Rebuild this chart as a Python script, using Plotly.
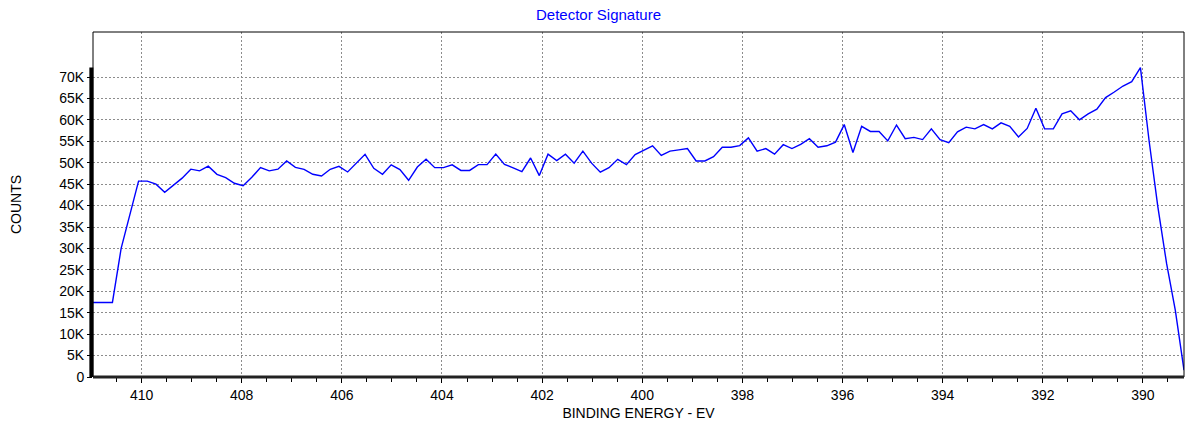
import numpy as np
import plotly.graph_objects as go

# Scan grid (binding energy, eV) — first point lies just beyond the left edge
energy_start = 411.104
energy_step = 0.174

counts_k = [
    17.4, 17.4, 17.4, 17.4, 30.0, 38.1, 45.7, 45.7, 45.0, 43.1,
    44.7, 46.4, 48.5, 48.1, 49.2, 47.3, 46.5, 45.2, 44.65, 46.6,
    48.85, 48.1, 48.5, 50.4, 48.9, 48.46, 47.3, 46.9, 48.46, 49.16,
    47.84, 49.9, 51.96, 48.7, 47.3, 49.5, 48.4, 45.9, 49.0, 50.8,
    48.85, 48.85, 49.5, 48.2, 48.2, 49.55, 49.55, 52.0, 49.6, 48.8,
    47.9, 51.1, 47.0, 52.0, 50.5, 52.0, 49.9, 52.7, 49.9, 47.8,
    48.85, 50.8, 49.55, 51.9, 53.0, 53.95, 51.7, 52.7, 53.0, 53.3,
    50.4, 50.4, 51.4, 53.6, 53.6, 54.0, 55.8, 52.7, 53.3, 52.0,
    54.2, 53.3, 54.3, 55.6, 53.6, 53.95, 54.8, 58.9, 52.4, 58.5,
    57.3, 57.3, 55.1, 58.8, 55.6, 55.9, 55.4, 57.9, 55.4, 54.7,
    57.2, 58.3, 57.9, 58.9, 57.9, 59.3, 58.5, 56.0, 58.0, 62.7,
    57.9, 57.9, 61.4, 62.1, 60.0, 61.4, 62.5, 65.2, 66.5, 67.9,
    68.9, 72.2, 55.0, 39.7, 26.5, 15.6, 1.6,
]

counts = [c * 1000 for c in counts_k]
energy = energy_start - energy_step * np.arange(len(counts))

x_range = [410.97, 389.18]
y_range = [0, 80500]
y_tick_vals = list(range(0, 75000, 5000))
y_tick_text = ["0"] + [f"{v // 1000}K" for v in y_tick_vals[1:]]
x_tick_vals = [410, 408, 406, 404, 402, 400, 398, 396, 394, 392, 390]

FONT = "Arial, Liberation Sans, sans-serif"
GRID_DASH = "2px,2px"

fig = go.Figure()
fig.add_trace(go.Scatter(
    x=energy, y=counts, mode="lines",
    line=dict(color="#0000FF", width=1.4),
    hoverinfo="x+y", showlegend=False,
))

fig.update_layout(
    width=1197, height=423,
    margin=dict(l=93, r=13, t=32, b=46),
    paper_bgcolor="white", plot_bgcolor="white",
    font=dict(family=FONT, size=14, color="black"),
    title=dict(text="Detector Signature", x=0.5, xanchor="center",
               y=1 - 15 / 423, yanchor="middle",
               font=dict(family=FONT, size=15, color="#0000FF")),
    xaxis=dict(
        range=x_range, tickvals=x_tick_vals,
        ticks="outside", ticklen=5, tickcolor="black",
        minor=dict(dtick=0.5, ticks="outside", ticklen=4, tickcolor="black",
                   showgrid=False),
        showgrid=True, gridcolor="#8c8c8c", griddash=GRID_DASH, gridwidth=1,
        showline=False, zeroline=False, automargin=False,
        title=dict(text="BINDING ENERGY - EV", standoff=6,
                   font=dict(family=FONT, size=14)),
        tickfont=dict(family=FONT, size=14),
    ),
    yaxis=dict(
        range=y_range, tickvals=y_tick_vals, ticktext=y_tick_text,
        ticks="outside", ticklen=5, tickcolor="black",
        showgrid=True, gridcolor="#8c8c8c", griddash=GRID_DASH, gridwidth=1,
        showline=False, zeroline=False, automargin=False,
        title=dict(text="COUNTS", standoff=34, font=dict(family=FONT, size=14)),
        tickfont=dict(family=FONT, size=14),
    ),
    shapes=[
        dict(type="rect", xref="paper", yref="paper", x0=0, x1=1, y0=0, y1=1,
             line=dict(color="black", width=1)),
        dict(type="line", xref="paper", yref="paper", x0=0, x1=1, y0=0, y1=0,
             line=dict(color="#222222", width=3)),
        dict(type="line", xref="paper", yref="y", x0=-0.0015, x1=-0.0015,
             y0=0, y1=max(counts), line=dict(color="black", width=4)),
    ],
)

fig.write_html(
    "out.html",
    config={"displayModeBar": False},
    post_script="document.body.style.margin='0';document.body.style.overflow='hidden';",
)
